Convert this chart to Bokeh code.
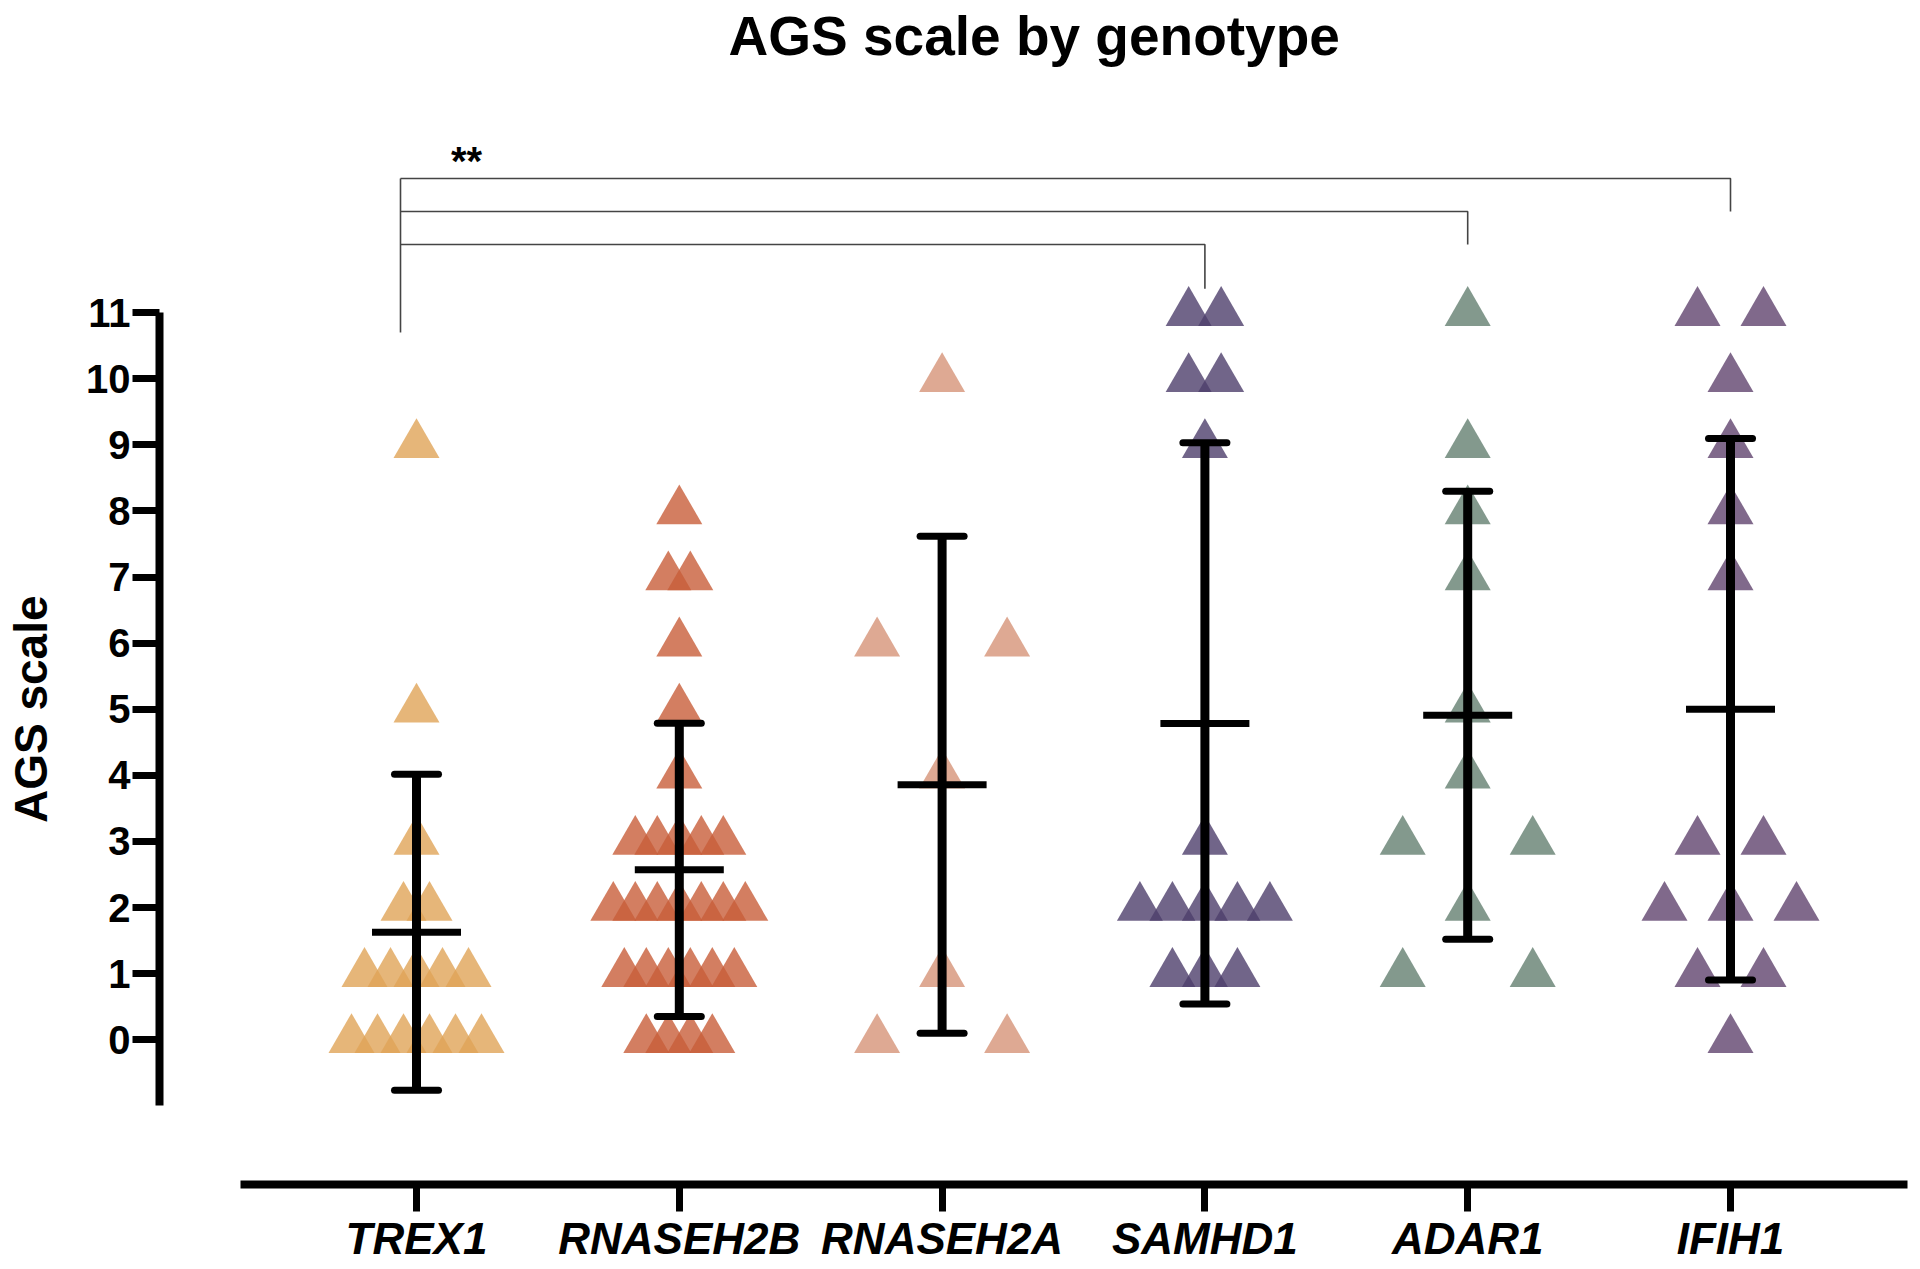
import numpy as np
from bokeh.plotting import figure
from bokeh.models import Range1d, FixedTicker
from bokeh.embed import file_html
from bokeh.resources import INLINE
from bokeh.core.properties import value

# ---------------- data ----------------
categories = ["TREX1", "RNASEH2B", "RNASEH2A", "SAMHD1", "ADAR1", "IFIH1"]
trex1 = [9, 5, 3, 2, 2, 1, 1, 1, 1, 1, 0, 0, 0, 0, 0, 0]
rnaseh2b = [8, 7, 7, 6, 5, 4, 3, 3, 3, 3, 3, 2, 2, 2, 2, 2, 2, 2,
            1, 1, 1, 1, 1, 1, 0, 0, 0, 0]
rnaseh2a = [10, 6, 6, 4, 1, 0, 0]
samhd1 = [11, 11, 10, 10, 9, 3, 2, 2, 2, 2, 2, 1, 1, 1]
adar1 = [11, 9, 8, 7, 5, 4, 3, 3, 2, 1, 1]
ifih1 = [11, 11, 10, 9, 8, 7, 3, 3, 2, 2, 2, 1, 1, 0]
groups = [trex1, rnaseh2b, rnaseh2a, samhd1, adar1, ifih1]
y_ticks = list(range(0, 12))
comparisons = [("TREX1", "SAMHD1"), ("TREX1", "ADAR1"), ("TREX1", "IFIH1")]
sig_label = "**"
y_label = "AGS scale"

# ---------------- style ----------------
colors = ["#E0A458", "#C85E3A", "#D69378", "#4E3F6C", "#647F70", "#60446E"]
step_px = [26, 22, 130, 32.5, 130, 66]   # horizontal spread of stacked points
FONT = "Liberation Sans"

PX_CAT = 262.8      # pixels per category
PX_UNIT = 66.1      # pixels per y unit
FRAME_W = 1910
FRAME_H = 1116
x_start = 1 - 416 / PX_CAT          # frame starts at the left canvas edge
x_end = x_start + FRAME_W / PX_CAT
y_start = -2.19
y_end = y_start + FRAME_H / PX_UNIT

p = figure(frame_width=FRAME_W, frame_height=FRAME_H,
           x_range=Range1d(x_start, x_end), y_range=Range1d(y_start, y_end),
           output_backend="svg", toolbar_location=None,
           min_border_left=0, min_border_right=0,
           min_border_top=0, min_border_bottom=75)
p.title.text = "AGS scale by genotype"
p.title.align = "left"
p.title.offset = 728
p.title.text_font = FONT
p.title.text_font_size = "55px"
p.title.text_font_style = "bold"
p.title.text_color = "black"
p.title.standoff = 4
p.xgrid.visible = False
p.ygrid.visible = False
p.outline_line_color = None
p.background_fill_color = "white"
p.border_fill_color = "white"

# y axis (placed at a fixed position inside the frame, offset like Prism)
ya = p.yaxis[0]
ya.fixed_location = x_start + 159 / PX_CAT
ya.ticker = FixedTicker(ticks=y_ticks)
ya.bounds = (-1, 11)
ya.axis_line_width = 8
ya.axis_line_color = "black"
ya.major_tick_line_width = 7
ya.major_tick_out = 27
ya.major_tick_in = 0
ya.minor_tick_line_color = None
ya.major_label_text_font = FONT
ya.major_label_text_font_size = "40px"
ya.major_label_text_font_style = "bold"
ya.major_label_text_color = "black"
ya.major_label_standoff = 2

# x axis
xa = p.xaxis[0]
xa.ticker = FixedTicker(ticks=list(range(1, len(categories) + 1)))
xa.major_label_overrides = {i + 1: c for i, c in enumerate(categories)}
xa.bounds = (x_start + 240 / PX_CAT, x_start + 1907 / PX_CAT)
xa.axis_line_width = 8
xa.axis_line_color = "black"
xa.major_tick_line_width = 7
xa.major_tick_out = 27
xa.major_tick_in = 0
xa.minor_tick_line_color = None
xa.major_label_text_font = FONT
xa.major_label_text_font_size = "44px"
xa.major_label_text_font_style = "bold italic"
xa.major_label_text_color = "black"
xa.major_label_standoff = 2

# y axis title, centred on the axis bounds as in the reference
p.text(x=[x_start + 30 / PX_CAT], y=[(ya.bounds[0] + ya.bounds[1]) / 2],
       text=[y_label], angle=np.pi / 2, text_align="center",
       text_baseline="middle", text_font=value(FONT), text_font_size="46px",
       text_font_style="bold", text_color="black")

# points
for gi, (vals, col, st) in enumerate(zip(groups, colors, step_px)):
    vals = np.array(vals, dtype=float)
    xs, ys = [], []
    for v in sorted(set(vals), reverse=True):
        k = int((vals == v).sum())
        for i in range(k):
            xs.append(gi + 1 + (i - (k - 1) / 2) * st / PX_CAT)
            ys.append(v)
    p.scatter(x=xs, y=ys, marker="triangle", size=46, fill_color=col,
              fill_alpha=0.8, line_color=None)

# mean +/- SD
xc = np.arange(1, len(groups) + 1)
means = np.array([np.mean(g) for g in groups])
sds = np.array([np.std(g, ddof=1) for g in groups])
p.segment(x0=xc, y0=means - sds, x1=xc, y1=means + sds, line_width=9,
          line_color="black")
cap = 22 / PX_CAT
for yy in (means - sds, means + sds):
    p.segment(x0=xc - cap, y0=yy, x1=xc + cap, y1=yy, line_width=7,
              line_color="black", line_cap="round")
mw = 44.5 / PX_CAT
p.segment(x0=xc - mw, y0=means, x1=xc + mw, y1=means, line_width=7,
          line_color="black")

# significance brackets
levels = [12.03, 12.53, 13.03]
drops = [11.36, 12.03, 12.53]
left_x = 1 - 16 / PX_CAT
for (a, b), lv, dr in zip(comparisons, levels, drops):
    xb = categories.index(b) + 1
    p.line(x=[left_x, xb, xb], y=[lv, lv, dr], line_color="#444444",
           line_width=1.6)
p.line(x=[left_x, left_x], y=[max(levels), 10.70], line_color="#444444",
       line_width=1.6)
p.text(x=[left_x + 66 / PX_CAT], y=[max(levels) + 0.26], text=[sig_label],
       text_font=value(FONT), text_font_style="bold", text_font_size="40px",
       text_align="center", text_baseline="middle", text_color="black")

open("out.html", "w").write(file_html(p, INLINE))
